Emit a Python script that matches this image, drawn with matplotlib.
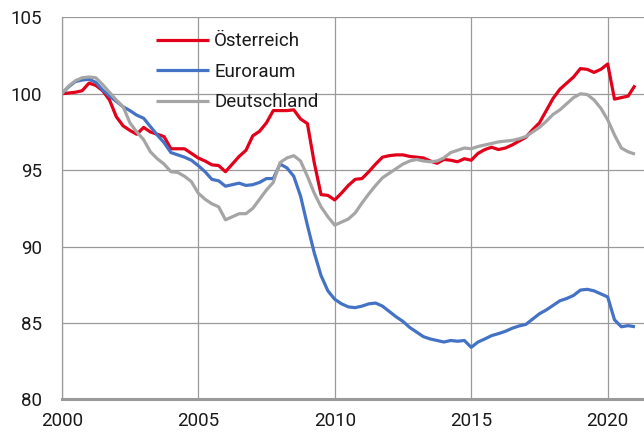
import numpy as np
import matplotlib
matplotlib.use("Agg")
import matplotlib.pyplot as plt

# Quarterly data, 2000Q1 .. 2021Q1 (index 2000Q1 = 100)
start_year = 2000
series_names = ["Österreich", "Euroraum", "Deutschland"]

oesterreich = [
    100.0, 100.05, 100.1, 100.2, 100.7, 100.55, 100.2, 99.6, 98.5, 97.9,
    97.6, 97.35, 97.8, 97.5, 97.35, 97.2, 96.4, 96.4, 96.4, 96.1,
    95.8, 95.6, 95.35, 95.3, 94.9, 95.4, 95.9, 96.3, 97.25, 97.55,
    98.1, 98.9, 98.9, 98.9, 98.95, 98.35, 98.05, 95.5, 93.4, 93.35,
    93.05, 93.5, 94.0, 94.4, 94.45, 94.9, 95.4, 95.85, 95.95, 96.0,
    96.0, 95.9, 95.85, 95.8, 95.6, 95.45, 95.7, 95.65, 95.55, 95.75,
    95.65, 96.1, 96.35, 96.5, 96.35, 96.45, 96.65, 96.9, 97.15, 97.65,
    98.1, 98.9, 99.7, 100.3, 100.7, 101.1, 101.65, 101.6, 101.4, 101.6,
    101.95, 99.65, 99.75, 99.85, 100.55,
]

euroraum = [
    100.0, 100.45, 100.8, 100.9, 100.95, 100.75, 100.25, 99.85, 99.5, 99.15,
    98.9, 98.6, 98.4, 97.85, 97.3, 96.8, 96.15, 96.0, 95.85, 95.65,
    95.3, 94.9, 94.4, 94.3, 93.95, 94.05, 94.15, 94.0, 94.05, 94.2,
    94.45, 94.45, 95.4, 95.15, 94.6, 93.3, 91.4, 89.6, 88.1, 87.1,
    86.55, 86.25, 86.05, 86.0, 86.1, 86.25, 86.3, 86.1, 85.75, 85.4,
    85.1, 84.7, 84.4, 84.1, 83.95, 83.85, 83.75, 83.85, 83.8, 83.85,
    83.4, 83.75, 83.95, 84.17, 84.3, 84.45, 84.65, 84.8, 84.9, 85.25,
    85.6, 85.85, 86.15, 86.45, 86.6, 86.8, 87.15, 87.2, 87.1, 86.9,
    86.7, 85.2, 84.75, 84.82, 84.75,
]

deutschland = [
    100.0, 100.5, 100.85, 101.05, 101.1, 101.05, 100.6, 100.1, 99.6, 99.15,
    98.1, 97.5, 97.0, 96.2, 95.75, 95.4, 94.9, 94.85, 94.6, 94.25,
    93.5, 93.1, 92.8, 92.6, 91.75, 91.95, 92.15, 92.15, 92.5, 93.1,
    93.7, 94.2, 95.5, 95.8, 95.95, 95.6, 94.6, 93.5, 92.6, 91.95,
    91.4, 91.6, 91.8, 92.2, 92.85, 93.45, 94.0, 94.5, 94.8, 95.1,
    95.4, 95.6, 95.7, 95.6, 95.55, 95.6, 95.8, 96.15, 96.3, 96.45,
    96.4, 96.55, 96.65, 96.75, 96.85, 96.9, 96.95, 97.05, 97.2, 97.5,
    97.8, 98.2, 98.65, 98.95, 99.35, 99.75, 100.0, 99.95, 99.6, 99.05,
    98.3, 97.3, 96.45, 96.2, 96.05,
]

x_ticks = [2000, 2005, 2010, 2015, 2020]
y_ticks = [80, 85, 90, 95, 100, 105]

colors = ["#E2001A", "#4472C4", "#A5A5A5"]

plt.rcParams["font.family"] = ["Roboto", "DejaVu Sans"]

fig = plt.figure(figsize=(6.44, 4.32), dpi=100)
ax = fig.add_axes([0.0958, 0.0757, 0.9042, 0.884])

t = start_year + np.arange(len(oesterreich)) / 4.0

for vals, name, c in zip([oesterreich, euroraum, deutschland], series_names, colors):
    ax.plot(t, vals, color=c, lw=2.3, label=name, solid_joinstyle="round", solid_capstyle="butt")

ax.set_xlim(2000, 2021.33)
ax.set_ylim(80, 105)
ax.set_xticks(x_ticks)
ax.set_xticklabels([str(v) for v in x_ticks])
ax.set_yticks(y_ticks)
ax.set_yticklabels([str(v) for v in y_ticks])

ax.grid(True, color="#9a9a9a", lw=0.9)
ax.set_axisbelow(True)
for s in ["top", "right"]:
    ax.spines[s].set_visible(False)
ax.spines["left"].set_color("#9a9a9a")
ax.spines["left"].set_linewidth(0.9)
ax.spines["bottom"].set_color("#9a9a9a")
ax.spines["bottom"].set_linewidth(2.2)

ax.tick_params(axis="both", length=0, labelsize=13.5, colors="#1a1a1a")
ax.tick_params(axis="y", pad=14)
ax.tick_params(axis="x", pad=9)

leg = ax.legend(loc="upper left", bbox_to_anchor=(0.162, 0.961), frameon=False,
                fontsize=13.5, handlelength=2.85, handletextpad=0.25,
                labelspacing=0.67, borderpad=0, borderaxespad=0)
for txt in leg.get_texts():
    txt.set_color("#1a1a1a")

fig.savefig("out.png", dpi=100)
